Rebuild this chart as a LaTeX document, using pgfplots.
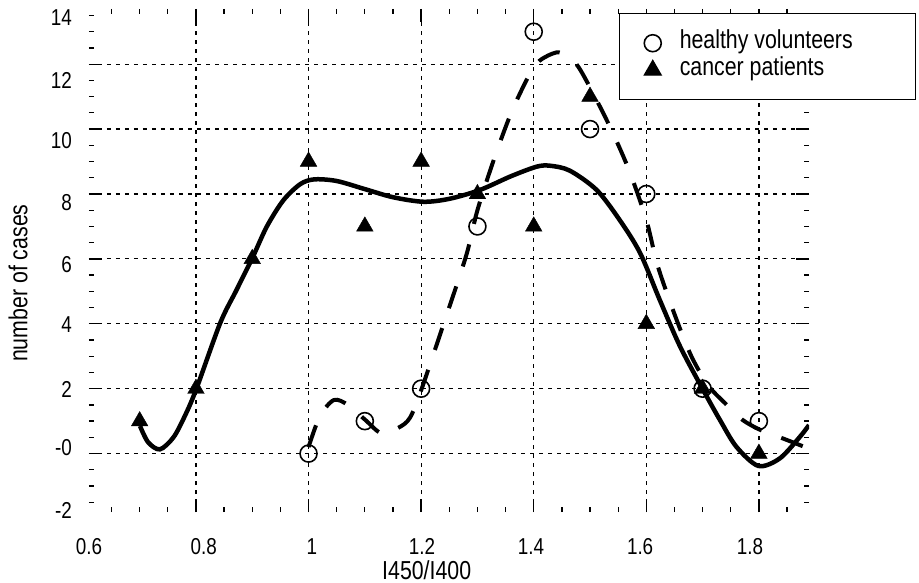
\documentclass[border=0pt]{standalone}
\usepackage{fontspec}
\setmainfont{Liberation Sans}[FakeStretch=0.82]
\usepackage{pgfplots}
\pgfplotsset{compat=1.18}
\newcommand\tickfont{\fontsize{23bp}{27bp}\selectfont}
\newcommand\labfont{\fontsize{26bp}{30bp}\selectfont}
\begin{document}
\begin{tikzpicture}
\begin{axis}[
  scale only axis, width=720bp, height=503bp,
  xmin=0.61, xmax=1.889, ymin=-1.8, ymax=13.7,
  axis line style={draw=none},
  clip marker paths=true,
  xtick={0.8,1,1.2,1.4,1.6,1.8}, xticklabels={,,,,,},
  ytick={0,2,4,6,8,10,12}, yticklabels={,,,,,,},
  minor xtick={0.65,0.7,0.75,0.85,0.9,0.95,1.05,1.1,1.15,1.25,1.3,1.35,1.45,1.5,1.55,1.65,1.7,1.75,1.85},
  minor ytick={-1.5,-1,-0.5,0.5,1,1.5,2.5,3,3.5,4.5,5,5.5,6.5,7,7.5,8.5,9,9.5,10.5,11,11.5,12.5,13,13.5},
  grid=major,
  major grid style={black, line width=1.2bp, dash pattern=on 4bp off 5bp},
  tick align=inside,
  major tick length=13bp, minor tick length=5bp,
  tick style={black, line width=1.3bp},
  extra x ticks={0.61,0.814,1.006,1.2015,1.395,1.589,1.784},
  extra x tick labels={0.6,0.8,1,1.2,1.4,1.6,1.8},
  extra x tick style={grid=none, major tick style={draw=none}},
  extra y ticks={-1.74,0.17,1.99,3.96,5.83,7.73,9.64,11.51,13.42},
  extra y tick labels={-2,-0,2,4,6,8,10,12,14},
  extra y tick style={grid=none, major tick style={draw=none}},
  tick label style={font=\tickfont},
  xticklabel style={anchor=north, inner sep=0pt, yshift=-26.6bp},
  yticklabel style={anchor=east, inner sep=0pt, xshift=-17bp},
  xlabel={I450/I400}, ylabel={number of cases},
  label style={font=\labfont},
  xlabel style={at={(axis description cs:0.469,-0.1153)}, anchor=center, inner sep=0pt},
  ylabel style={at={(axis description cs:-0.0986,0.455)}, anchor=center, inner sep=0pt},
  legend style={at={(axis description cs:1.1486,0.992)}, anchor=north east,
    draw=black, line width=1.4bp, inner xsep=24.5bp, inner ysep=16bp,
    font=\labfont, row sep=0pt,
    nodes={inner sep=1bp, text height=18bp, text depth=7bp},
    /tikz/every odd column/.append style={column sep=17.5bp}},
  legend cell align=left,
]
\addplot[black, line width=4.5bp, smooth, forget plot] coordinates {
(0.7006,0.85) (0.715,0.35) (0.736,0.13) (0.76,0.5) (0.78,1.15) (0.80,1.96)
(0.843,4.02) (0.872,5.04) (0.901,6.06) (0.926,7.0) (0.955,7.8) (0.985,8.3)
(1.01,8.45) (1.05,8.4) (1.10,8.15) (1.15,7.9) (1.204,7.76) (1.25,7.85)
(1.304,8.12) (1.36,8.55) (1.405,8.84) (1.429,8.87) (1.464,8.72) (1.512,8.12)
(1.553,7.19) (1.589,6.18) (1.624,4.73) (1.66,3.3) (1.701,1.96) (1.731,1.03)
(1.76,0.21) (1.799,-0.38) (1.837,-0.15) (1.873,0.52) (1.889,0.88)};
\addplot[black, line width=4bp, smooth, dash pattern=on 23bp off 21bp, forget plot] coordinates {
(1.0,0.2) (1.02,1.15) (1.045,1.65) (1.07,1.5) (1.1,1.05) (1.13,0.62) (1.16,0.8)
(1.18,1.1) (1.2,1.95) (1.24,4.0) (1.28,6.1) (1.3,7.5) (1.33,9.1) (1.36,10.5)
(1.39,11.6) (1.41,12.1) (1.44,12.36) (1.46,12.25) (1.48,11.9) (1.51,10.95)
(1.54,9.9) (1.57,8.7) (1.6,7.2) (1.62,5.8) (1.65,4.3) (1.68,3.0) (1.71,2.1)
(1.74,1.55) (1.77,1.05) (1.8,0.75) (1.83,0.55) (1.86,0.35) (1.889,0.15)};
\addplot[only marks, mark=o, mark size=8.5bp, mark options={line width=1.6bp, black}] coordinates {
(1.0,0) (1.1,1) (1.2,2) (1.3,7) (1.4,13) (1.5,10) (1.6,8) (1.7,2) (1.8,1) (1.9,0)};
\addlegendentry{healthy volunteers\hspace*{37bp}}
\addplot[only marks, mark=triangle*, mark size=9.6bp, mark options={black, fill=black}] coordinates {
(0.7,1) (0.8,2) (0.9,6) (1.0,9) (1.1,7) (1.2,9) (1.3,8) (1.4,7) (1.5,11) (1.6,4) (1.7,2) (1.8,0)};
\addlegendentry{cancer patients}
\end{axis}
\pgfresetboundingbox
\path[use as bounding box] ([shift={(-89bp,-71bp)}]current axis.south west) rectangle ([shift={(830bp,512bp)}]current axis.south west);
\end{tikzpicture}
\end{document}
